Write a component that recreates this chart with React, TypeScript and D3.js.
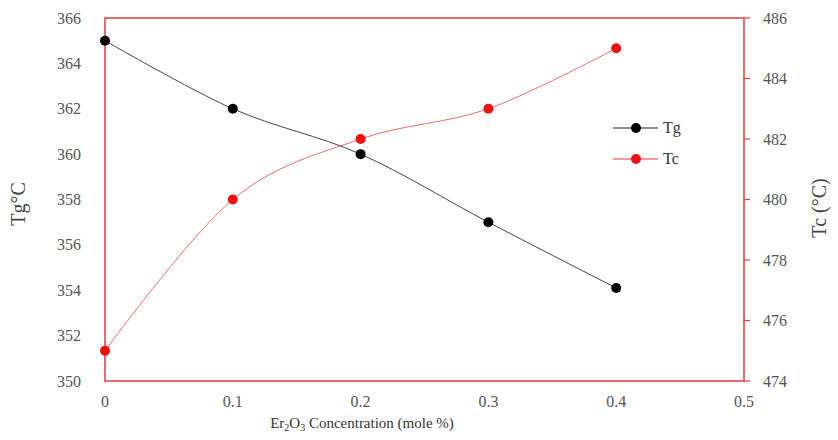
import * as d3 from 'd3';
import React from 'react';

const conc = [0, 0.1, 0.2, 0.3, 0.4];
const tg = [365, 362, 360, 357, 354.1];
const tc = [475, 480, 482, 483, 485];
const xTicks = [0, 0.1, 0.2, 0.3, 0.4, 0.5];
const leftTicks = [350, 352, 354, 356, 358, 360, 362, 364, 366];
const rightTicks = [474, 476, 478, 480, 482, 484, 486];

const App = () => {
  const W = 838, H = 440;
  const left = 105, right = 744, top = 18, bottom = 381;

  const x = d3.scaleLinear().domain([0, 0.5]).range([left, right]);
  const yL = d3.scaleLinear().domain([350, 366]).range([bottom, top]);
  const yR = d3.scaleLinear().domain([474, 486]).range([bottom, top]);

  // smoothed like the spreadsheet lines
  const curve = d3.curveCardinal.tension(0);
  const tgLine = d3.line<number>().x((d, i) => x(conc[i])).y(d => yL(d)).curve(curve);
  const tcLine = d3.line<number>().x((d, i) => x(conc[i])).y(d => yR(d)).curve(curve);

  const font = "'Liberation Serif', 'Times New Roman', serif";
  const red = '#e8383d';

  return (
    <svg width={W} height={H} style={{ position: 'absolute', left: 0, top: 0, background: '#fff' }}
      fontFamily={font}>
      <rect x={left} y={top} width={right - left} height={bottom - top} fill="none" stroke={red} strokeWidth={1.5} />
      {rightTicks.map(t => (
        <line key={t} x1={right} x2={right + 6} y1={yR(t)} y2={yR(t)} stroke={red} strokeWidth={1.2} />
      ))}
      {leftTicks.map(t => (
        <text key={t} x={81} y={yL(t)} dy="0.35em" textAnchor="end" fontSize={16} fill="#555">{t}</text>
      ))}
      {rightTicks.map(t => (
        <text key={t} x={763} y={yR(t)} dy="0.35em" textAnchor="start" fontSize={16} fill="#555">{t}</text>
      ))}
      {xTicks.map(t => (
        <text key={t} x={x(t)} y={407} textAnchor="middle" fontSize={16} fill="#555">{t}</text>
      ))}
      <text x={362} y={428} textAnchor="middle" fontSize={15} fill="#333">
        Er<tspan fontSize={10} dy={3}>2</tspan><tspan dy={-3}>O</tspan><tspan fontSize={10} dy={3}>3</tspan><tspan dy={-3}> Concentration (mole %)</tspan>
      </text>
      <text transform={`translate(25,204) rotate(-90)`} textAnchor="middle" fontSize={20} fill="#444">Tg°C</text>
      <text transform={`translate(826,208) rotate(-90)`} textAnchor="middle" fontSize={20} fill="#444">Tc (°C)</text>

      <path d={tgLine(tg) || ''} fill="none" stroke="#444" strokeWidth={1} />
      <path d={tcLine(tc) || ''} fill="none" stroke={red} strokeWidth={1} strokeOpacity={0.75} />
      {tg.map((v, i) => <circle key={'g' + i} cx={x(conc[i])} cy={yL(v)} r={5} fill="#000" />)}
      {tc.map((v, i) => <circle key={'c' + i} cx={x(conc[i])} cy={yR(v)} r={5} fill="#f01010" />)}

      <g>
        <line x1={613} x2={658} y1={128} y2={128} stroke="#222" strokeWidth={1.2} />
        <circle cx={636} cy={128} r={5} fill="#000" />
        <text x={663} y={133} fontSize={16} fill="#333">Tg</text>
        <line x1={613} x2={658} y1={159} y2={159} stroke={red} strokeWidth={1.2} />
        <circle cx={636} cy={159} r={5} fill="#f01010" />
        <text x={663} y={164} fontSize={16} fill="#333">Tc</text>
      </g>
    </svg>
  );
};

export default App;
